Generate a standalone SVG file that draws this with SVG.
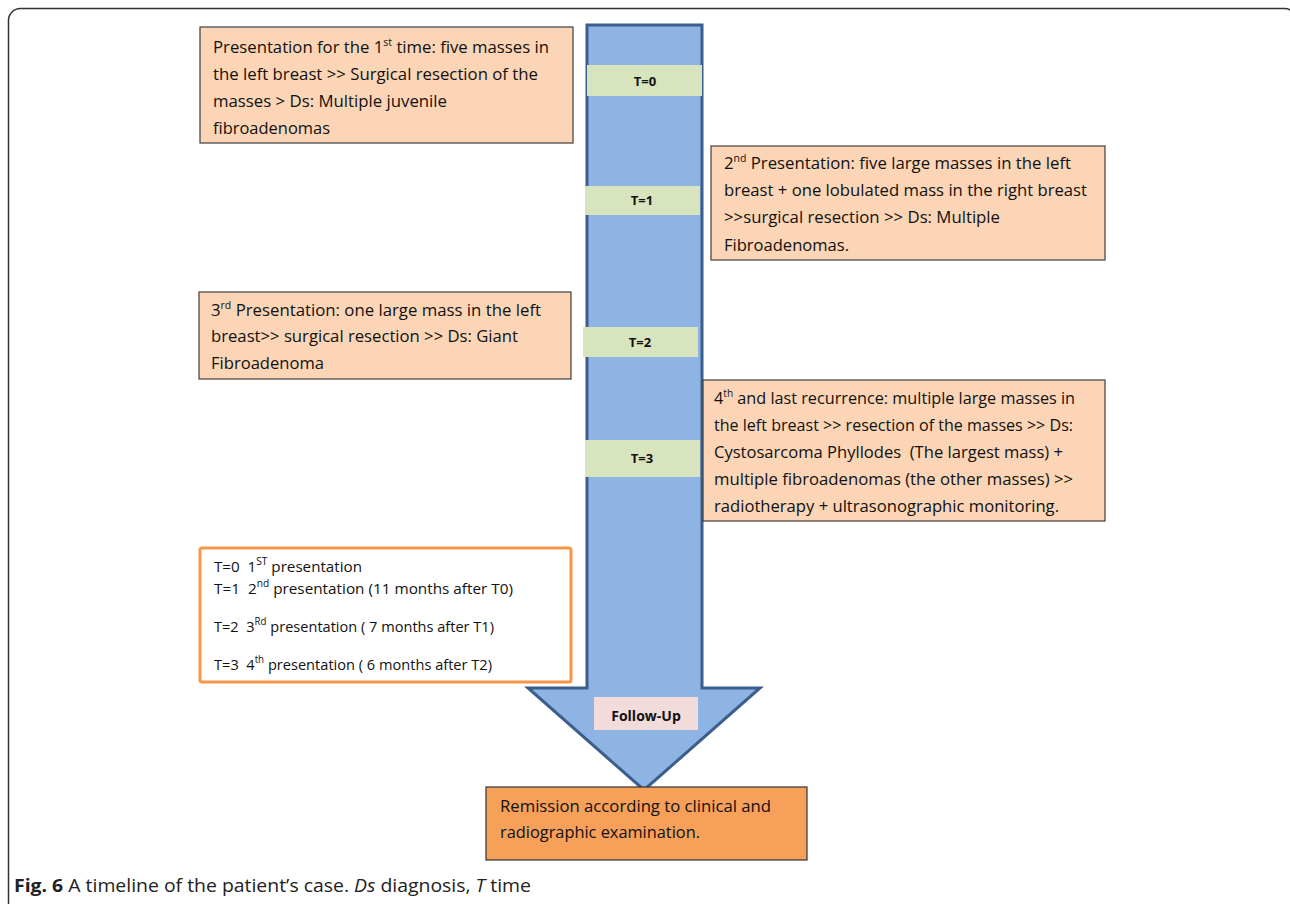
<svg xmlns="http://www.w3.org/2000/svg" width="1290" height="904" viewBox="0 0 1290 904">
<style>
.box{fill:#FBD5B5;stroke:#3F3F3F;stroke-width:1.2}
.band{fill:#D7E4BD}
.t{font-family:"Open Sans","Liberation Sans",sans-serif;font-size:16px;fill:#111}
.lg{font-family:"Open Sans","Liberation Sans",sans-serif;font-size:15px;fill:#111}
.tl{font-family:"Open Sans","Liberation Sans",sans-serif;font-size:13px;font-weight:bold;fill:#111;text-anchor:middle}
.sup{font-size:10px}
.cap{font-family:"Open Sans","Liberation Sans",sans-serif;font-size:18px;fill:#222}
</style>
<rect x="8.5" y="8.5" width="1288" height="906" rx="12" fill="#fff" stroke="#333" stroke-width="1.5"/>
<g id="connectors">
<polygon id="timeline-arrow" points="587,25 702,25 702,688 760,688 644,790 528,688 587,688" fill="#8EB4E3" stroke="#3B5E8C" stroke-width="3" stroke-linejoin="miter"/>
</g>
<g id="t0"><rect class="band" x="587" y="65" width="115" height="31"/><text class="tl" x="645" y="86">T=0</text></g>
<g id="t1"><rect class="band" x="585" y="186" width="115" height="29"/><text class="tl" x="642" y="205">T=1</text></g>
<g id="t2"><rect class="band" x="583" y="327" width="115" height="30"/><text class="tl" x="640" y="347">T=2</text></g>
<g id="t3"><rect class="band" x="585" y="440" width="115" height="37"/><text class="tl" x="642" y="463">T=3</text></g>
<g id="followup"><rect x="594" y="697" width="104" height="33" fill="#F2DCDB"/><text class="tl" x="646" y="721" style="font-size:14px">Follow-Up</text></g>
<g id="box1">
<rect class="box" x="200" y="27" width="373" height="116"/>
<text class="t" x="213" y="53" textLength="336" lengthAdjust="spacingAndGlyphs">Presentation for the 1<tspan class="sup" dy="-7">st</tspan><tspan dy="7"> time: five masses in</tspan></text>
<text class="t" x="213" y="80" textLength="325" lengthAdjust="spacingAndGlyphs">the left breast &gt;&gt; Surgical resection of the</text>
<text class="t" x="213" y="107" textLength="234" lengthAdjust="spacingAndGlyphs">masses &gt; Ds: Multiple juvenile</text>
<text class="t" x="213" y="134" textLength="117" lengthAdjust="spacingAndGlyphs">fibroadenomas</text>
</g>
<g id="box2">
<rect class="box" x="711" y="146" width="394" height="114"/>
<text class="t" x="724" y="169" textLength="347" lengthAdjust="spacingAndGlyphs">2<tspan class="sup" dy="-7">nd</tspan><tspan dy="7"> Presentation: five large masses in the left</tspan></text>
<text class="t" x="724" y="196" textLength="363" lengthAdjust="spacingAndGlyphs">breast + one lobulated mass in the right breast</text>
<text class="t" x="724" y="223" textLength="276" lengthAdjust="spacingAndGlyphs">&gt;&gt;surgical resection &gt;&gt; Ds: Multiple</text>
<text class="t" x="724" y="251" textLength="125" lengthAdjust="spacingAndGlyphs">Fibroadenomas.</text>
</g>
<g id="box3">
<rect class="box" x="199" y="292" width="372" height="87"/>
<text class="t" x="211" y="316" textLength="330" lengthAdjust="spacingAndGlyphs">3<tspan class="sup" dy="-7">rd</tspan><tspan dy="7"> Presentation: one large mass in the left</tspan></text>
<text class="t" x="211" y="342" textLength="307" lengthAdjust="spacingAndGlyphs">breast&gt;&gt; surgical resection &gt;&gt; Ds: Giant</text>
<text class="t" x="211" y="369" textLength="113" lengthAdjust="spacingAndGlyphs">Fibroadenoma</text>
</g>
<g id="box4">
<rect class="box" x="703" y="380" width="402" height="141"/>
<text class="t" x="714" y="404" textLength="361" lengthAdjust="spacingAndGlyphs">4<tspan class="sup" dy="-7">th</tspan><tspan dy="7"> and last recurrence: multiple large masses in</tspan></text>
<text class="t" x="714" y="431" textLength="359" lengthAdjust="spacingAndGlyphs">the left breast &gt;&gt; resection of the masses &gt;&gt; Ds:</text>
<text class="t" x="714" y="458" textLength="349" lengthAdjust="spacingAndGlyphs" xml:space="preserve">Cystosarcoma Phyllodes  (The largest mass) +</text>
<text class="t" x="714" y="485" textLength="359" lengthAdjust="spacingAndGlyphs">multiple fibroadenomas (the other masses) &gt;&gt;</text>
<text class="t" x="714" y="512" textLength="345" lengthAdjust="spacingAndGlyphs">radiotherapy + ultrasonographic monitoring.</text>
</g>
<g id="legend">
<rect x="200" y="548" width="371" height="134" rx="2" fill="#fff" stroke="#F79646" stroke-width="3"/>
<text class="lg" x="214" y="572" textLength="148" lengthAdjust="spacingAndGlyphs" xml:space="preserve">T=0  1<tspan class="sup" dy="-7">ST</tspan><tspan dy="7"> presentation</tspan></text>
<text class="lg" x="214" y="594" textLength="299" lengthAdjust="spacingAndGlyphs" xml:space="preserve">T=1  2<tspan class="sup" dy="-7">nd</tspan><tspan dy="7"> presentation (11 months after T0)</tspan></text>
<text class="lg" x="214" y="632" textLength="280" lengthAdjust="spacingAndGlyphs" xml:space="preserve">T=2  3<tspan class="sup" dy="-7">Rd</tspan><tspan dy="7"> presentation ( 7 months after T1)</tspan></text>
<text class="lg" x="214" y="670" textLength="278" lengthAdjust="spacingAndGlyphs" xml:space="preserve">T=3  4<tspan class="sup" dy="-7">th</tspan><tspan dy="7"> presentation ( 6 months after T2)</tspan></text>
</g>
<g id="remission">
<rect x="486" y="787" width="321" height="73" fill="#F7A05A" stroke="#333" stroke-width="1.2"/>
<text class="t" x="500" y="812" textLength="271" lengthAdjust="spacingAndGlyphs">Remission according to clinical and</text>
<text class="t" x="500" y="838" textLength="200" lengthAdjust="spacingAndGlyphs">radiographic examination.</text>
</g>
<text class="cap" x="14" y="892" textLength="517" lengthAdjust="spacingAndGlyphs"><tspan font-weight="bold">Fig. 6</tspan> A timeline of the patient’s case. <tspan font-style="italic">Ds</tspan> diagnosis, <tspan font-style="italic">T</tspan> time</text>
</svg>
